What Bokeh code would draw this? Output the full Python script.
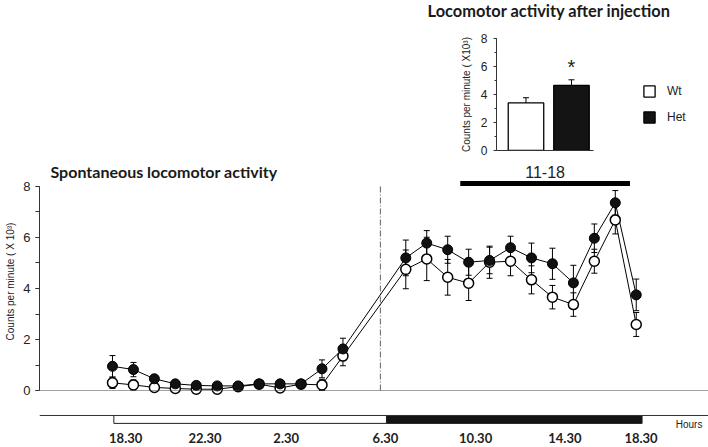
from bokeh.plotting import figure
from bokeh.models import (ColumnDataSource, Range1d, Whisker, TeeHead, Span, Label,
                          SingleIntervalTicker, FixedTicker, Spacer)
from bokeh.layouts import column, row
from bokeh.embed import file_html
from bokeh.resources import INLINE
from bokeh.core.properties import value
from bokeh.transform import factor_cmap

# ---------------- data ----------------
# hourly bins since 18.30 (index of hour); bins 12 and 13 not recorded
hour_idx = [0, 1, 2, 3, 4, 5, 6, 7, 8, 9, 10, 11,
            14, 15, 16, 17, 18, 19, 20, 21, 22, 23, 24, 25]
wt_mean = [0.30, 0.22, 0.12, 0.08, 0.05, 0.05, 0.15, 0.25, 0.10, 0.25, 0.22, 1.35,
           4.75, 5.16, 4.44, 4.21, 5.03, 5.07, 4.34, 3.66, 3.37, 5.07, 6.69, 2.59]
wt_sem = [0.22, 0.20, 0.10, 0.08, 0.06, 0.06, 0.08, 0.08, 0.10, 0.08, 0.22, 0.38,
          0.76, 0.85, 0.70, 0.68, 0.63, 0.57, 0.55, 0.46, 0.46, 0.47, 0.55, 0.47]
het_mean = [0.95, 0.82, 0.46, 0.26, 0.20, 0.18, 0.18, 0.26, 0.26, 0.26, 0.85, 1.63,
            5.20, 5.78, 5.52, 5.03, 5.10, 5.60, 5.20, 4.97, 4.22, 5.97, 7.36, 3.75]
het_sem = [0.42, 0.28, 0.10, 0.06, 0.05, 0.05, 0.06, 0.06, 0.06, 0.06, 0.35, 0.42,
           0.70, 0.49, 0.53, 0.51, 0.52, 0.45, 0.58, 0.61, 0.69, 0.56, 0.48, 0.62]

# time axis (positions on the hour scale as drawn)
tick_pos = [0.38, 4.2, 8.11, 12.89, 17.23, 21.53, 25.2]
tick_labels = ["18.30", "22.30", "2.30", "6.30", "10.30", "14.30", "18.30"]
periods = ["light", "dark"]
period_start = [-0.19, 12.94]
period_end = [12.94, 25.25]
injection_at = 12.79
window_label = "11-18"
window_span = [16.6, 24.7]

# inset: mean activity after injection (11-18)
groups = ["Wt", "Het"]
inj_mean = [3.40, 4.65]
inj_sem = [0.37, 0.40]
inj_sig = ["", "*"]

# ---------------- style constants ----------------
FONT = "Liberation Sans"
TFONT = "Lato"
TXT = "#222222"
X_LO, X_HI = -3.484, 28.449

# ---------------- main chart ----------------
p = figure(width=708, height=238, output_backend="svg", toolbar_location=None,
           x_range=Range1d(X_LO, X_HI), y_range=Range1d(-0.392, 8.941),
           min_border_left=39, min_border_right=0, min_border_top=0, min_border_bottom=0)
p.grid.visible = False
p.outline_line_color = None
p.xaxis.visible = False

ya = p.yaxis[0]
ya.bounds = (0, 8)
ya.ticker = SingleIntervalTicker(interval=2, num_minor_ticks=2)
ya.major_tick_in = 0
ya.major_tick_out = 4
ya.minor_tick_in = 0
ya.minor_tick_out = 4
ya.axis_line_color = "#333333"
ya.major_tick_line_color = "#333333"
ya.minor_tick_line_color = "#333333"
ya.major_label_text_font = FONT
ya.major_label_text_font_size = "13px"
ya.major_label_text_color = TXT
ya.major_label_standoff = 5
ya.axis_label = "Counts per minute ( X 10³)"
ya.axis_label_text_font = FONT
ya.axis_label_text_font_style = "normal"
ya.axis_label_text_font_size = "10px"
ya.axis_label_text_color = TXT
ya.axis_label_standoff = 4

# zero line
p.add_layout(Span(location=0, dimension="width", line_color="#444444",
                  line_width=1, line_dash="1 1"))

# injection line
p.segment(x0=[injection_at], y0=[0], x1=[injection_at], y1=[8.0],
          line_color="#777777", line_width=1.2, line_dash="6 2 1 2")

# 11-18 window bar
p.segment(x0=[window_span[0]], y0=[8.12], x1=[window_span[1]], y1=[8.12],
          line_color="black", line_width=5)
p.text(x=[(window_span[0] + window_span[1]) / 2], y=[8.56], text=[window_label],
       text_font=value(FONT), text_font_size="16px", text_color=TXT,
       text_align="center", text_baseline="middle")

src = ColumnDataSource(dict(
    x=hour_idx, wt=wt_mean, het=het_mean,
    wt_lo=[m - s for m, s in zip(wt_mean, wt_sem)], wt_hi=[m + s for m, s in zip(wt_mean, wt_sem)],
    het_lo=[m - s for m, s in zip(het_mean, het_sem)], het_hi=[m + s for m, s in zip(het_mean, het_sem)],
))
for lo, hi in (("wt_lo", "wt_hi"), ("het_lo", "het_hi")):
    w = Whisker(base="x", lower=lo, upper=hi, source=src, line_color="black", line_width=1,
                upper_head=TeeHead(size=6, line_color="black", line_width=1),
                lower_head=TeeHead(size=6, line_color="black", line_width=1))
    w.level = "underlay"
    p.add_layout(w)
p.line("x", "wt", source=src, line_color="black", line_width=1)
p.line("x", "het", source=src, line_color="black", line_width=1)
p.scatter("x", "wt", source=src, size=10, fill_color="white", line_color="black", line_width=1.5)
p.scatter("x", "het", source=src, size=10, fill_color="#111111", line_color="black", line_width=1)

p.add_layout(Label(x=11, x_units="screen", y=8.57, text="Spontaneous locomotor activity",
                   text_font=TFONT, text_font_style="bold", text_font_size="16px",
                   text_color="#1a1a1a", text_baseline="middle", text_align="left"))

# ---------------- timeline strip (same horizontal scale) ----------------
tl = figure(width=708, height=47, output_backend="svg", toolbar_location=None,
            x_range=Range1d(-3.771, X_HI), y_range=Range1d(-2.235, -0.392),
            min_border_left=33, min_border_right=0, min_border_top=0, min_border_bottom=0)
tl.grid.visible = False
tl.outline_line_color = None
tl.axis.visible = False
tl.add_layout(Span(location=-0.98, dimension="width", line_color="#333333", line_width=1))
psrc = ColumnDataSource(dict(left=period_start, right=period_end, period=periods))
tl.quad(left="left", right="right", bottom=-1.29, top=-0.98, source=psrc,
        fill_color=factor_cmap("period", ["white", "#141414"], periods),
        line_color="#222222", line_width=1)
tl.text(x=tick_pos, y=[-1.88] * len(tick_pos), text=tick_labels, text_font=value(TFONT),
        text_font_style="bold", text_font_size="13px", text_color=TXT,
        text_align="center", text_baseline="middle")
tl.text(x=[26.87], y=[-1.33], text=["Hours"], text_font=value(FONT),
        text_font_size="10px", text_color=TXT, text_baseline="middle", text_align="left")

# ---------------- inset title strip (full width, same horizontal scale) ----------------
ti = figure(width=708, height=24, output_backend="svg", toolbar_location=None,
            x_range=Range1d(X_LO, X_HI), y_range=Range1d(0, 1),
            min_border_left=39, min_border_right=0, min_border_top=0, min_border_bottom=0)
ti.grid.visible = False
ti.outline_line_color = None
ti.axis.visible = False
ti.add_layout(Label(x=15.04, y=14, y_units="screen",
                    text="Locomotor activity after injection",
                    text_font=TFONT, text_font_style="bold", text_font_size="16.4px",
                    text_color="#1a1a1a", text_baseline="alphabetic", text_align="left"))

# ---------------- inset chart ----------------
pi = figure(width=296, height=138, output_backend="svg", toolbar_location=None,
            x_range=Range1d(-0.648, 4.011), y_range=Range1d(0, 8),
            min_border_left=84, min_border_right=0, min_border_top=14, min_border_bottom=12)
pi.grid.visible = False
pi.outline_line_color = None

isrc = ColumnDataSource(dict(x=list(range(len(groups))), mean=inj_mean, group=groups,
                             hi=[m + s for m, s in zip(inj_mean, inj_sem)],
                             sig=inj_sig,
                             sig_y=[m + s + 0.95 for m, s in zip(inj_mean, inj_sem)]))
pi.vbar(x="x", top="mean", bottom=0, width=0.78, source=isrc,
        fill_color=factor_cmap("group", ["white", "#141414"], groups),
        line_color="black", line_width=1.3, legend_field="group")
pi.add_layout(Whisker(base="x", lower="mean", upper="hi", source=isrc, line_color="black",
                      line_width=1, upper_head=TeeHead(size=6, line_color="black", line_width=1),
                      lower_head=None))
pi.text(x="x", y="sig_y", text="sig", source=isrc, text_font=value(FONT),
        text_font_size="20px", text_color=TXT, text_align="center", text_baseline="middle")

iy = pi.yaxis[0]
iy.ticker = SingleIntervalTicker(interval=2, num_minor_ticks=2)
iy.major_tick_in = 0
iy.major_tick_out = 3
iy.minor_tick_in = 0
iy.minor_tick_out = 2
iy.axis_line_color = "#333333"
iy.major_tick_line_color = "#333333"
iy.minor_tick_line_color = "#333333"
iy.major_label_text_font = FONT
iy.major_label_text_font_size = "12px"
iy.major_label_text_color = TXT
iy.major_label_standoff = 6
iy.axis_label = "Counts per minute ( X10³)"
iy.axis_label_text_font = FONT
iy.axis_label_text_font_style = "normal"
iy.axis_label_text_font_size = "10px"
iy.axis_label_text_color = TXT
iy.axis_label_standoff = 6

ix = pi.xaxis[0]
ix.bounds = (-0.648, 1.48)
ix.ticker = FixedTicker(ticks=[])
ix.major_tick_line_color = None
ix.minor_tick_line_color = None
ix.axis_line_color = "#333333"

lg = pi.legend[0]
lg.location = (146, 26)
lg.padding = 0
lg.margin = 0
lg.spacing = 12
lg.glyph_width = 14
lg.glyph_height = 14
lg.label_height = 14
lg.label_standoff = 11
lg.border_line_color = None
lg.background_fill_alpha = 0
lg.label_text_font = FONT
lg.label_text_font_size = "12px"
lg.label_text_color = TXT

layout = column(ti, row(Spacer(width=412, height=138), pi), p, tl)
open("out.html", "w").write(file_html(layout, INLINE))
